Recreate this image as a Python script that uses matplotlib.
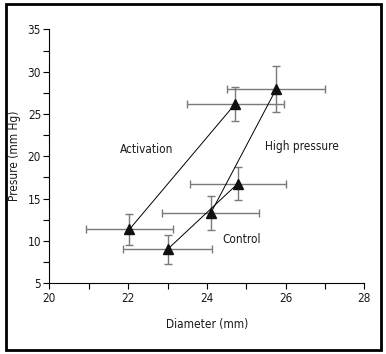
import matplotlib
matplotlib.use("Agg")
import matplotlib.pyplot as plt
from matplotlib.ticker import MultipleLocator
from matplotlib.patches import Rectangle

plt.rcParams['font.family'] = ['DejaVu Sans']
plt.rcParams['font.stretch'] = 'condensed'

# points: diameter (mm), pressure (mm Hg), errors
diam = [22.03, 23.0, 24.1, 24.78, 24.72, 25.76]
pres = [11.35, 9.0, 13.3, 16.75, 26.2, 27.95]
diam_err = [1.1, 1.12, 1.23, 1.22, 1.23, 1.24]
pres_err = [1.85, 1.72, 1.98, 1.95, 2.0, 2.7]

# connecting lines (index pairs)
segments = {"Activation": (0, 4), "Control": (1, 3), "High pressure": (2, 5)}
label_pos = {"Activation": (22.47, 20.75), "Control": (24.87, 10.2), "High pressure": (26.41, 21.2)}

fig = plt.figure(figsize=(3.86, 3.54), dpi=100)
ax = fig.add_axes([0.128, 0.200, 0.816, 0.717])

for name, (i, j) in segments.items():
    ax.plot([diam[i], diam[j]], [pres[i], pres[j]], color='black', lw=0.7, zorder=2)

ax.errorbar(diam, pres, xerr=diam_err, yerr=pres_err, fmt='none',
            ecolor='#7a7a7a', elinewidth=1.0, capsize=3, capthick=1.0, zorder=1)
ax.plot(diam, pres, linestyle='none', marker='^', color='#111111',
        markersize=7.5, zorder=3)

for name, (x, y) in label_pos.items():
    ax.text(x, y, name, ha='center', va='center', fontsize=8.5, color='#1a1a1a')

ax.set_xlim(20, 28)
ax.set_ylim(5, 35)
ax.xaxis.set_major_locator(MultipleLocator(2))
ax.xaxis.set_minor_locator(MultipleLocator(1))
ax.yaxis.set_major_locator(MultipleLocator(5))
ax.yaxis.set_minor_locator(MultipleLocator(2.5))
ax.tick_params(which='both', direction='out', length=4, width=0.8, labelsize=8.5, pad=2,
               labelcolor='#1a1a1a')
ax.spines['top'].set_visible(False)
ax.spines['right'].set_visible(False)
for s in ('left', 'bottom'):
    ax.spines[s].set_linewidth(0.8)

ax.set_xlabel('Diameter (mm)', fontsize=8.5, labelpad=10, color='#1a1a1a')
ax.set_ylabel('Presure (mm Hg)', fontsize=8.5, labelpad=5, color='#1a1a1a')

fig.patches.append(Rectangle((6/386, 4/354), 375/386, 346/354, transform=fig.transFigure,
                             fill=False, edgecolor='black', linewidth=2))

fig.savefig('out.png', dpi=100)
